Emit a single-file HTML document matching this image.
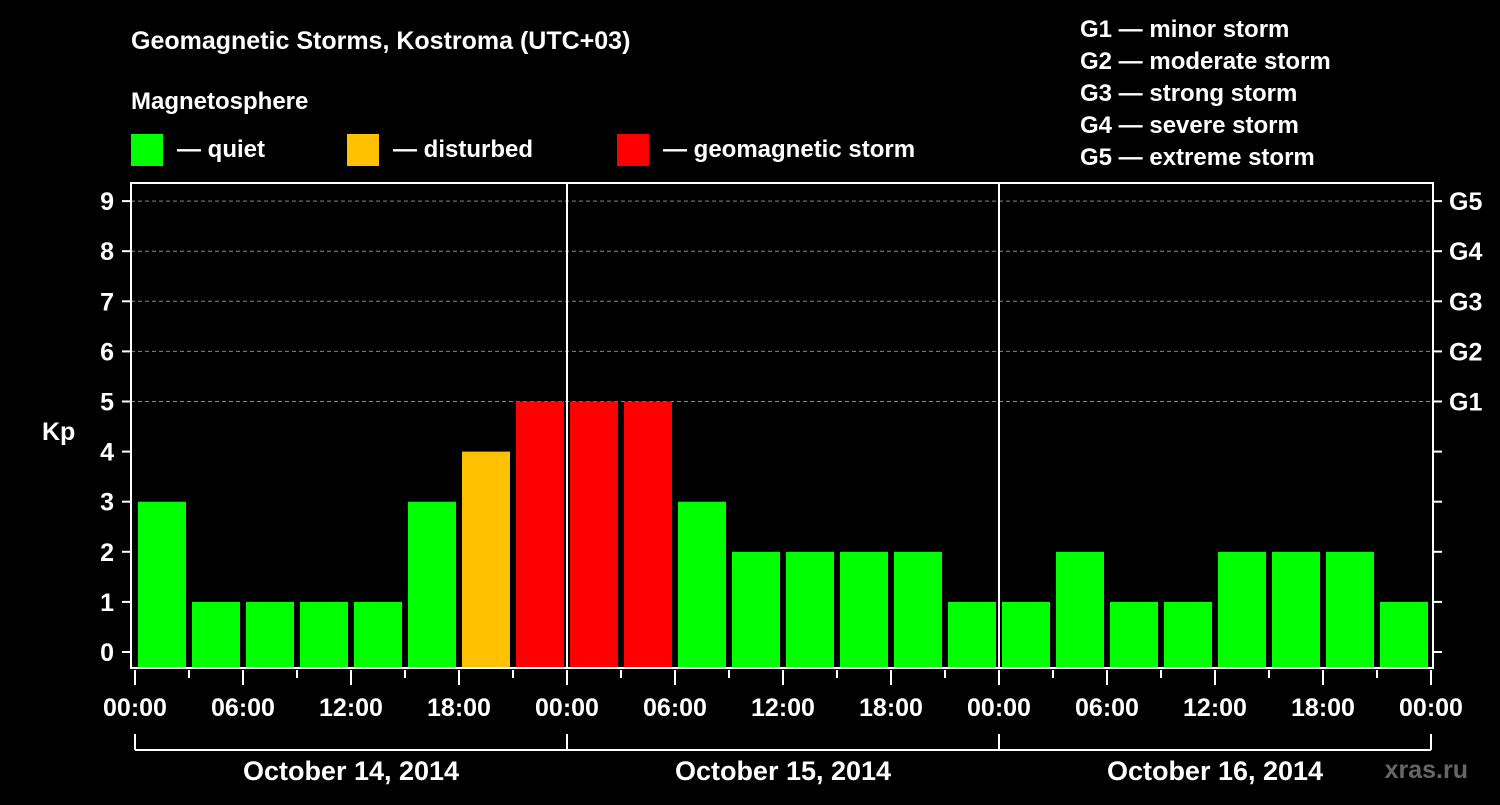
<!DOCTYPE html>
<html><head><meta charset="utf-8"><style>
body{margin:0;background:#000;width:1500px;height:800px;overflow:hidden}
text{font-family:"Liberation Sans",sans-serif;font-weight:bold;fill:#fff}
</style></head><body>
<svg width="1500" height="800">
<text x="131" y="49" font-size="25">Geomagnetic Storms, Kostroma (UTC+03)</text>
<text x="131" y="109" font-size="24">Magnetosphere</text>
<g><rect x="131" y="134" width="32" height="32" fill="#00ff00"/><text x="177" y="157" font-size="24">— quiet</text></g>
<g><rect x="347" y="134" width="32" height="32" fill="#ffc000"/><text x="393" y="157" font-size="24">— disturbed</text></g>
<g><rect x="617" y="134" width="32" height="32" fill="#ff0000"/><text x="663" y="157" font-size="24">— geomagnetic storm</text></g>
<g font-size="24">
<text x="1080" y="37">G1 — minor storm</text><text x="1080" y="69">G2 — moderate storm</text><text x="1080" y="101">G3 — strong storm</text><text x="1080" y="133">G4 — severe storm</text><text x="1080" y="165">G5 — extreme storm</text></g>
<g id="grid"></g><g id="bars"></g><g id="axes"></g>
<text x="42" y="440" font-size="25">Kp</text>
<text x="1468" y="778" font-size="25" fill="#555" style="fill:#666" text-anchor="end">xras.ru</text>
</svg>
<script>
const kpValues=[3,1,1,1,1,3,4,5,5,5,3,2,2,2,2,1,1,2,1,1,2,2,2,1];
const dayLabels=["October 14, 2014","October 15, 2014","October 16, 2014"];
const hourLabels=["00:00","06:00","12:00","18:00"];
const gLabels=["G1","G2","G3","G4","G5"];
const NS="http://www.w3.org/2000/svg";
const X0=135,SLOT=54,L=131,R=1433,T=183,B=668;
const xs=i=>X0+i*SLOT;
const ys=v=>652-50.1*v;
function mk(p,tag,a,txt){const e=document.createElementNS(NS,tag);for(const k in a)e.setAttribute(k,a[k]);if(txt!==undefined)e.textContent=txt;document.getElementById(p)?document.getElementById(p).appendChild(e):p.appendChild(e);return e;}
function col(v){return v>=5?"#ff0000":v>=4?"#ffc000":"#00ff00";}
for(let v=5;v<=9;v++){const l=mk("grid","line",{x1:L,x2:R,y1:ys(v),y2:ys(v),stroke:"#888","stroke-dasharray":"4 3","stroke-width":1});

}
kpValues.forEach((v,i)=>{const r=mk("bars","rect",{x:xs(i)+3,y:ys(v),width:48,height:B-ys(v),fill:col(v)});

});
const ax="axes";
mk(ax,"rect",{x:L,y:T,width:R-L,height:B-T,fill:"none",stroke:"#fff","stroke-width":2});
for(let d=1;d<3;d++)mk(ax,"line",{x1:xs(d*8),x2:xs(d*8),y1:T,y2:B,stroke:"#fff","stroke-width":2});
for(let v=0;v<=9;v++){mk(ax,"line",{x1:122,x2:L,y1:ys(v),y2:ys(v),stroke:"#fff","stroke-width":2});
mk(ax,"line",{x1:R,x2:1442,y1:ys(v),y2:ys(v),stroke:"#fff","stroke-width":2});
const t=mk(ax,"text",{x:114,y:ys(v)+9,"font-size":25,"text-anchor":"end"},String(v));

}
gLabels.forEach((g,i)=>{const t=mk(ax,"text",{x:1449,y:ys(5+i)+9,"font-size":25},g);

});
for(let i=0;i<=24;i++){const major=i%2==0;mk(ax,"line",{x1:xs(i),x2:xs(i),y1:670,y2:major?685:678,stroke:"#fff","stroke-width":2});
if(major){const t=mk(ax,"text",{x:xs(i),y:716,"font-size":25,"text-anchor":"middle"},hourLabels[(i/2)%4]);

}}
mk(ax,"line",{x1:xs(0),x2:xs(24),y1:750,y2:750,stroke:"#fff","stroke-width":2});
for(let d=0;d<=3;d++)mk(ax,"line",{x1:xs(d*8),x2:xs(d*8),y1:734,y2:750,stroke:"#fff","stroke-width":2});
dayLabels.forEach((s,d)=>{const t=mk(ax,"text",{x:xs(d*8+4),y:780,"font-size":27,"text-anchor":"middle"},s);

});
</script>
</body></html>
